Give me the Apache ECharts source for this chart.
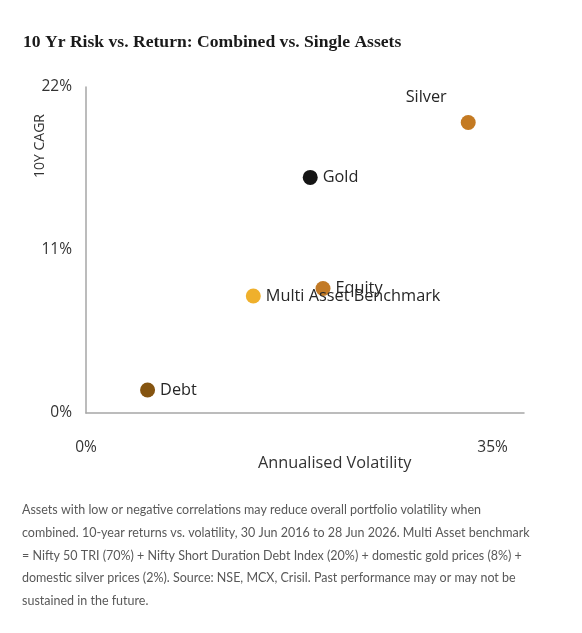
<!DOCTYPE html>
<html>
<head>
<meta charset="utf-8">
<script src="https://cdn.jsdelivr.net/npm/echarts@6/dist/echarts.min.js"></script>
<style>
  html, body { margin: 0; padding: 0; background: #fff; }
  #chart { width: 582px; height: 633px; }
</style>
</head>
<body>
<div id="chart"></div>
<script>
const assetNames = ['Silver', 'Gold', 'Equity', 'Multi Asset Benchmark', 'Debt']
const volatility = [32.9, 19.3, 20.4, 14.4, 5.3]
const cagr = [19.6, 15.9, 8.4, 7.9, 1.55]
const assetColors = ['#c47a22', '#151515', '#c27a26', '#efb02c', '#855410']
const xTicks = [0, 35]
const yTicks = [0, 11, 22]

const footnote = [
  'Assets with low or negative correlations may reduce overall portfolio volatility when',
  'combined. 10-year returns vs. volatility, 30 Jun 2016 to 28 Jun 2026. Multi Asset benchmark',
  '= Nifty 50 TRI (70%) + Nifty Short Duration Debt Index (20%) + domestic gold prices (8%) +',
  'domestic silver prices (2%). Source: NSE, MCX, Crisil. Past performance may or may not be',
  'sustained in the future.'
]

const chart = echarts.init(document.getElementById('chart'))
const labelFont = 'Lato, "Open Sans", sans-serif'
const pointFont = '"Open Sans", sans-serif'

const points = assetNames.map((name, i) => ({
  name: name,
  value: [volatility[i], cagr[i]],
  itemStyle: { color: assetColors[i], opacity: 1 },
  label: name === 'Silver'
    ? { position: 'top', offset: [-42, -5] }
    : { position: 'right', distance: 5 }
}))

const option = {
  animation: false,
  title: {
    text: '10 Yr Risk vs. Return: Combined vs. Single Assets',
    left: 18,
    top: 28,
    textStyle: {
      fontFamily: '"Liberation Serif", serif',
      fontWeight: 'bold',
      fontSize: 17.6,
      color: '#1a1a1a'
    }
  },
  grid: { left: 86, right: 58, top: 87, bottom: 220 },
  xAxis: {
    type: 'value',
    min: 0,
    max: 37.7,
    splitLine: { show: false },
    axisTick: { show: false },
    axisLine: { lineStyle: { color: '#a6a6a6', width: 1.5 } },
    axisLabel: {
      customValues: xTicks,
      margin: 27,
      formatter: '{value}%',
      fontFamily: pointFont,
      fontSize: 15.5,
      color: '#333'
    }
  },
  yAxis: {
    type: 'value',
    min: 0,
    max: 22,
    interval: 11,
    splitLine: { show: false },
    axisTick: { show: false },
    axisLine: { show: true, lineStyle: { color: '#a6a6a6', width: 1.5 } },
    axisLabel: {
      customValues: yTicks,
      margin: 14,
      formatter: '{value}%',
      fontFamily: pointFont,
      fontSize: 15.5,
      color: '#333'
    }
  },
  graphic: [
    {
      type: 'text',
      left: 258,
      top: 455,
      style: { text: 'Annualised Volatility', font: '16.3px ' + pointFont, fill: '#333' }
    },
    {
      type: 'text',
      x: 33,
      y: 178,
      rotation: Math.PI / 2,
      style: { text: '10Y CAGR', font: '14px ' + pointFont, fill: '#333' }
    },
    {
      type: 'text',
      left: 22,
      top: 499,
      style: {
        text: footnote.join('\n'),
        font: '12.5px ' + labelFont,
        lineHeight: 22.6,
        fill: '#595959'
      }
    }
  ],
  series: [
    {
      type: 'scatter',
      symbolSize: 15,
      data: points,
      label: {
        show: true,
        formatter: '{b}',
        fontFamily: pointFont,
        fontSize: 16.3,
        color: '#262626'
      }
    }
  ]
}

chart.setOption(option)
</script>
</body>
</html>
